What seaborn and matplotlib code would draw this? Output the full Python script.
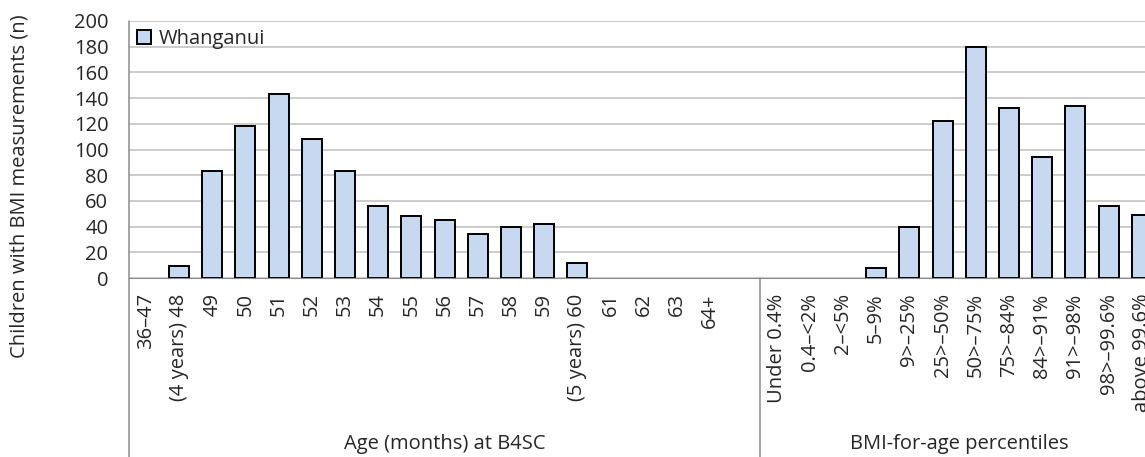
import matplotlib
matplotlib.use("Agg")
import matplotlib.pyplot as plt
import matplotlib.transforms as mtransforms
from matplotlib.patches import Patch
import seaborn as sns
import pandas as pd

# dados
idade_labels = ["36–47", "(4 years) 48", "49", "50", "51", "52", "53", "54", "55",
                "56", "57", "58", "59", "(5 years) 60", "61", "62", "63", "64+", " "]
idade_valores = [0, 9, 83, 118, 143, 108, 83, 56, 48, 45, 34, 40, 42, 12, 0, 0, 0, 0, 0]

bmi_labels = ["Under 0.4%", "0.4–<2%", "2–<5%", "5–9%", "9>–25%", "25>–50%",
              "50>–75%", "75>–84%", "84>–91%", "91>–98%", "98>–99.6%", "above 99.6%"]
bmi_valores = [0, 0, 0, 8, 40, 122, 180, 132, 94, 134, 56, 49]

grupos = ["Age (months) at B4SC", "BMI-for-age percentiles"]
serie = "Whanganui"

cor_barra = "#C6D9F0"
cor_grade = "#BFBFBF"
cor_eixo = "#8C8C8C"

df = pd.DataFrame({"categoria": idade_labels + bmi_labels,
                   "n": idade_valores + bmi_valores})

sns.set_style("white")
plt.rcParams["font.family"] = ["Open Sans", "DejaVu Sans"]
fs = 14.5

fig = plt.figure(figsize=(11.45, 4.57), dpi=100)
ax = fig.add_axes([129.2 / 1145, 179 / 457, 1029.2 / 1145, 257 / 457])

sns.barplot(data=df, x="categoria", y="n", color=cor_barra, saturation=1,
            edgecolor="black", linewidth=1.4, width=0.6, ax=ax)

# barras com valor zero não aparecem no original
for barra in ax.patches:
    if barra.get_height() == 0:
        barra.set_linewidth(0)

ax.set_ylim(0, 200)
ax.set_yticks(range(0, 201, 20))
ax.set_xlim(-0.5, len(df) - 0.5)
ax.yaxis.grid(True, color=cor_grade, linewidth=1.1)
ax.set_axisbelow(True)
ax.set_xlabel("")
ax.set_ylabel("")

for lado in ["top", "right", "left"]:
    ax.spines[lado].set_visible(False)
ax.spines["bottom"].set_color(cor_eixo)

ax.tick_params(axis="y", length=5, width=1.0, color=cor_eixo, labelsize=fs, pad=10)
ax.tick_params(axis="x", length=0, labelsize=fs, pad=11)
plt.setp(ax.get_xticklabels(), rotation=90, va="top", ha="center")

# linhas de separação dos grupos (descem até o rodapé)
trans = mtransforms.blended_transform_factory(ax.transData, ax.transAxes)
n_idade = len(idade_labels)
for xs, y0 in [(-0.5, 1.0), (n_idade - 0.5, 0.0)]:
    ax.plot([xs, xs], [-0.7, y0], color=cor_eixo, linewidth=1.1,
            transform=trans, clip_on=False)

centros = [(-0.5 + n_idade - 0.5) / 2, (n_idade - 0.5 + len(df) - 0.5) / 2]
for cx, nome in zip(centros, grupos):
    ax.text(cx, -0.645, nome, transform=trans, ha="center", va="center", fontsize=fs)

ax.legend(handles=[Patch(facecolor=cor_barra, edgecolor="black", linewidth=1.4)],
          labels=[serie], loc="upper left", frameon=False, fontsize=fs,
          handlelength=0.7, handleheight=0.7, handletextpad=0.35,
          borderaxespad=0.1, borderpad=0.3, bbox_to_anchor=(0.0, 1.0))

fig.text(20 / 1145, 1 - 186 / 457, "Children with BMI measurements (n)",
         rotation=90, ha="center", va="center", fontsize=fs)

fig.savefig("out.png", dpi=100)
